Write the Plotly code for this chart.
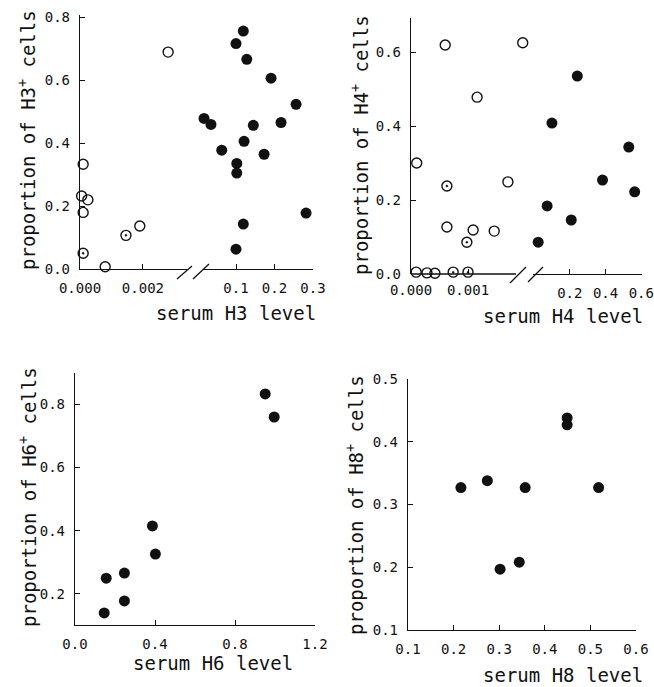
import plotly.graph_objects as go

W, H = 654, 687

# ---------------- data ----------------
# Panel H3: open circles (low serum level, left segment), dotted circles, filled (right segment)
h3_open_x = [0.0001, 0.00005, 0.00025, 0.0001, 0.0008, 0.0019, 0.0028]
h3_open_y = [0.333, 0.232, 0.220, 0.180, 0.007, 0.137, 0.690]
h3_dot_x = [0.0001, 0.00146]
h3_dot_y = [0.050, 0.107]
h3_fill_x = [0.119, 0.100, 0.128, 0.191, 0.256, 0.217, 0.017, 0.035, 0.145,
             0.121, 0.063, 0.173, 0.102, 0.102, 0.282, 0.119, 0.100]
h3_fill_y = [0.757, 0.717, 0.667, 0.607, 0.524, 0.466, 0.479, 0.460, 0.457,
             0.406, 0.378, 0.365, 0.336, 0.305, 0.178, 0.143, 0.063]

# Panel H4
h4_open_x = [0.0006, 0.00196, 0.00116, 0.0001, 0.0017, 0.00063, 0.00109, 0.00146,
             0.00009, 0.00028, 0.00042]
h4_open_y = [0.619, 0.625, 0.478, 0.300, 0.249, 0.127, 0.119, 0.116,
             0.005, 0.003, 0.002]
h4_dot_x = [0.00063, 0.00098, 0.00074, 0.0010]
h4_dot_y = [0.238, 0.086, 0.005, 0.005]
h4_fill_x = [0.242, 0.100, 0.530, 0.383, 0.563, 0.073, 0.208, 0.023]
h4_fill_y = [0.535, 0.408, 0.343, 0.254, 0.222, 0.184, 0.146, 0.086]

# Panel H6
h6_x = [0.951, 0.996, 0.387, 0.402, 0.156, 0.247, 0.247, 0.146]
h6_y = [0.832, 0.759, 0.415, 0.326, 0.250, 0.266, 0.178, 0.140]

# Panel H8
h8_x = [0.216, 0.274, 0.357, 0.518, 0.449, 0.449, 0.302, 0.344]
h8_y = [0.327, 0.338, 0.327, 0.327, 0.438, 0.427, 0.197, 0.208]

# tick labels
h3_xl_ticks = [0.0, 0.002]; h3_xl_text = ["0.000", "0.002"]
h3_xr_ticks = [0.1, 0.2, 0.3]; h3_xr_text = ["0.1", "0.2", "0.3"]
h3_y_ticks = [0.0, 0.2, 0.4, 0.6, 0.8]; h3_y_text = ["0.0", "0.2", "0.4", "0.6", "0.8"]
h4_xl_ticks = [0.0, 0.001]; h4_xl_text = ["0.000", "0.001"]
h4_xr_ticks = [0.2, 0.4, 0.6]; h4_xr_text = ["0.2", "0.4", "0.6"]
h4_y_ticks = [0.0, 0.2, 0.4, 0.6]; h4_y_text = ["0.0", "0.2", "0.4", "0.6"]
h6_x_ticks = [0.0, 0.4, 0.8, 1.2]; h6_x_text = ["0.0", "0.4", "0.8", "1.2"]
h6_y_ticks = [0.2, 0.4, 0.6, 0.8]; h6_y_text = ["0.2", "0.4", "0.6", "0.8"]
h8_x_ticks = [0.1, 0.2, 0.3, 0.4, 0.5, 0.6]; h8_x_text = ["0.1", "0.2", "0.3", "0.4", "0.5", "0.6"]
h8_y_ticks = [0.1, 0.2, 0.3, 0.4, 0.5]; h8_y_text = ["0.1", "0.2", "0.3", "0.4", "0.5"]

# ---------------- helpers ----------------
def px(x):
    return x / W

def py(y):
    return 1 - y / H

INK = "#111111"
TICKFONT = dict(family="DejaVu Sans Mono", size=14, color=INK)
TITLEFONT = dict(family="DejaVu Sans Mono", size=19, color=INK)

fig = go.Figure()

def open_tr(x, y, xa, ya):
    return go.Scatter(x=x, y=y, xaxis=xa, yaxis=ya, mode="markers", cliponaxis=False,
                      marker=dict(symbol="circle-open", size=10, color=INK, line=dict(width=1.4, color=INK)),
                      showlegend=False, hoverinfo="x+y")

def dot_tr(x, y, xa, ya):
    return go.Scatter(x=x, y=y, xaxis=xa, yaxis=ya, mode="markers", cliponaxis=False,
                      marker=dict(symbol="circle-open-dot", size=10, color=INK, line=dict(width=1.4, color=INK)),
                      showlegend=False, hoverinfo="x+y")

def fill_tr(x, y, xa, ya):
    return go.Scatter(x=x, y=y, xaxis=xa, yaxis=ya, mode="markers", cliponaxis=False,
                      marker=dict(symbol="circle", size=11, color=INK, line=dict(width=0)),
                      showlegend=False, hoverinfo="x+y")

fig.add_trace(open_tr(h3_open_x, h3_open_y, "x", "y"))
fig.add_trace(dot_tr(h3_dot_x, h3_dot_y, "x", "y"))
fig.add_trace(fill_tr(h3_fill_x, h3_fill_y, "x2", "y"))

fig.add_trace(open_tr(h4_open_x, h4_open_y, "x3", "y2"))
fig.add_trace(dot_tr(h4_dot_x, h4_dot_y, "x3", "y2"))
fig.add_trace(fill_tr(h4_fill_x, h4_fill_y, "x4", "y2"))

fig.add_trace(fill_tr(h6_x, h6_y, "x5", "y3"))
fig.add_trace(fill_tr(h8_x, h8_y, "x6", "y4"))

def xaxis(d0, d1, rng, tv, tt, anchor, showline=True, standoff=6):
    return dict(domain=[px(d0), px(d1)], range=rng, tickvals=tv, ticktext=tt, anchor=anchor,
                showline=showline, linecolor=INK, linewidth=1.3, ticks="inside", ticklen=5,
                tickwidth=1.2, tickcolor=INK, showgrid=False, zeroline=False,
                tickfont=TICKFONT, fixedrange=True, automargin=False,
                ticklabelstandoff=standoff)

def yaxis(top, bot, rng, tv, tt, anchor):
    return dict(domain=[py(bot), py(top)], range=rng, tickvals=tv, ticktext=tt, anchor=anchor,
                showline=True, linecolor=INK, linewidth=1.3, ticks="inside", ticklen=5,
                tickwidth=1.2, tickcolor=INK, showgrid=False, zeroline=False,
                tickfont=TICKFONT, fixedrange=True, ticklabelstandoff=6, automargin=False)

fig.update_layout(
    template="none",
    width=W, height=H, margin=dict(l=0, r=0, t=0, b=0, pad=0, autoexpand=False),
    paper_bgcolor="white", plot_bgcolor="white",
    xaxis=xaxis(80, 187, [0, 0.0034], h3_xl_ticks, h3_xl_text, "y"),
    xaxis2=xaxis(203, 313, [0.0143, 0.30], h3_xr_ticks, h3_xr_text, "y"),
    yaxis=yaxis(15, 269, [0, 0.808], h3_y_ticks, h3_y_text, "x"),
    # left segment of H4 axis: line drawn separately so the last low point fits
    xaxis3=xaxis(411, 525, [0, 0.0020], h4_xl_ticks, h4_xl_text, "y2", showline=False),
    xaxis4=xaxis(533, 642, [-0.006, 0.604], h4_xr_ticks, h4_xr_text, "y2"),
    yaxis2=yaxis(18, 274, [0, 0.692], h4_y_ticks, h4_y_text, "x3"),
    xaxis5=xaxis(75, 315, [0, 1.2], h6_x_ticks, h6_x_text, "y3"),
    yaxis3=yaxis(373, 625, [0.102, 0.898], h6_y_ticks, h6_y_text, "x5"),
    xaxis6=xaxis(408, 636, [0.1, 0.6], h8_x_ticks, h8_x_text, "y4"),
    yaxis4=yaxis(379, 630, [0.1, 0.5], h8_y_ticks, h8_y_text, "x6"),
)

# H4 left axis line (stops before the break)
fig.add_shape(type="line", xref="paper", yref="paper",
              x0=px(411), y0=py(274), x1=px(516), y1=py(274),
              line=dict(color=INK, width=1.3))

# axis break marks (//)
breaks = [
    (177, 279, 192, 266), (193, 279, 209, 264),
    (510, 283, 526, 267), (528, 282, 543, 267),
]
for x0, y0, x1, y1 in breaks:
    fig.add_shape(type="line", xref="paper", yref="paper",
                  x0=px(x0), y0=py(y0), x1=px(x1), y1=py(y1),
                  line=dict(color=INK, width=1.3))

# axis titles
ann = [
    ("proportion of H3<sup>+</sup> cells", 27, 140, -90),
    ("serum H3 level", 236, 313, 0),
    ("proportion of H4<sup>+</sup> cells", 360, 145, -90),
    ("serum H4 level", 563, 316, 0),
    ("proportion of H6<sup>+</sup> cells", 28, 497, -90),
    ("serum H6 level", 213, 663, 0),
    ("proportion of H8<sup>+</sup> cells", 355, 505, -90),
    ("serum H8 level", 563, 675, 0),
]
for text, x, y, ang in ann:
    fig.add_annotation(text=text, xref="paper", yref="paper", x=px(x), y=py(y),
                       xanchor="center", yanchor="middle", showarrow=False,
                       textangle=ang, font=TITLEFONT)

fig.write_html("out.html")
